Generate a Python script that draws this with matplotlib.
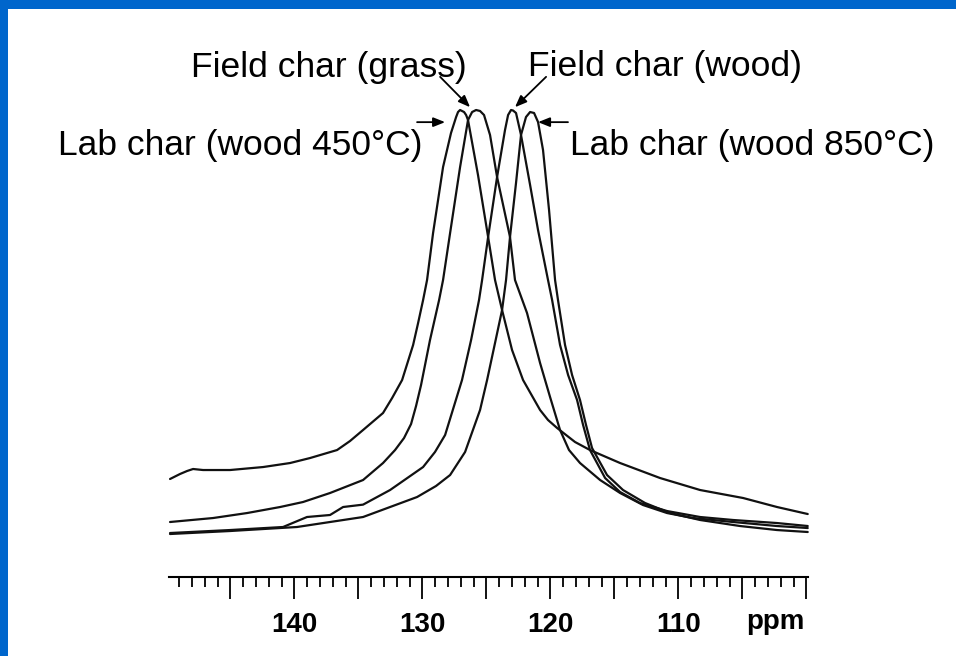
import matplotlib
matplotlib.use('Agg')
import matplotlib.pyplot as plt
from matplotlib.patches import Rectangle
from matplotlib.ticker import MultipleLocator, FuncFormatter

# ---- data ----
lab450_ppm = [149.72, 148.94, 148.39, 147.92, 147.14, 145.03, 142.45, 140.34, 138.78, 136.67,
              135.66, 134.64, 133.08, 132.37, 131.59, 130.73, 130.34, 129.95, 129.64, 129.17,
              128.39, 127.77, 127.37, 127.22, 127.06, 126.75, 126.59, 126.44, 125.66, 124.87,
              124.33, 123.78, 123.00, 122.14, 120.81, 120.19, 119.48, 118.08, 116.91, 114.56,
              111.44, 108.31, 104.95, 102.30, 99.90]
lab450_int = [20.99, 22.06, 22.70, 23.13, 22.91, 22.91, 23.55, 24.41, 25.48, 27.19,
              29.12, 31.48, 35.12, 38.33, 42.18, 49.68, 54.39, 59.31, 63.60, 73.66,
              87.79, 95.07, 98.50, 99.57, 100.0, 99.57, 98.93, 97.86, 86.08, 72.81,
              63.60, 57.17, 48.61, 42.18, 35.76, 33.62, 31.91, 28.91, 27.19, 24.41,
              21.20, 18.63, 16.92, 14.99, 13.49]

grass_ppm = [149.72, 146.36, 143.70, 141.12, 139.33, 137.22, 134.64, 133.08, 132.14, 131.44,
             130.89, 130.50, 130.11, 129.41, 128.70, 128.39, 127.84, 127.06, 126.44, 126.12,
             125.81, 125.50, 125.19, 124.72, 124.17, 123.16, 122.77, 121.83, 120.81, 120.03,
             119.25, 118.55, 117.69, 116.12, 114.56, 112.77, 110.89, 108.86, 105.73, 102.30,
             99.90]
grass_int = [11.78, 12.63, 13.70, 14.99, 16.06, 17.99, 20.77, 24.41, 27.19, 29.76,
             32.76, 36.62, 41.11, 50.75, 59.31, 63.60, 73.66, 87.79, 97.86, 99.57,
             100.0, 99.79, 98.93, 94.65, 85.65, 72.81, 63.60, 56.53, 45.82, 38.54,
             31.48, 27.19, 24.41, 20.77, 17.99, 15.42, 13.70, 12.63, 11.78, 10.92,
             10.49]

fwood_ppm = [149.72, 145.03, 140.89, 139.02, 137.22, 136.20, 134.64, 132.53, 129.95, 129.02,
             128.23, 126.91, 126.20, 125.58, 125.34, 124.87, 124.17, 123.55, 123.31, 123.08,
             122.92, 122.69, 122.30, 121.59, 120.97, 120.19, 119.87, 119.25, 118.62, 117.92,
             117.45, 116.91, 115.73, 114.56, 113.00, 110.89, 108.31, 105.73, 102.30, 99.90]
fwood_int = [9.42, 10.06, 10.71, 12.85, 13.28, 14.99, 15.50, 18.63, 23.55, 26.77,
             30.41, 42.18, 50.75, 59.31, 63.60, 72.81, 85.65, 95.72, 98.93, 100.0,
             99.89, 99.36, 94.65, 83.94, 74.30, 63.60, 59.31, 49.68, 43.25, 37.90,
             32.55, 27.19, 21.20, 18.20, 15.85, 14.13, 12.85, 12.21, 11.56, 10.92]

lab850_ppm = [149.72, 145.03, 139.80, 134.64, 130.42, 128.94, 127.84, 126.67, 125.50, 124.95,
              124.33, 123.78, 123.47, 123.16, 122.69, 122.30, 121.91, 121.59, 121.28, 120.97,
              120.58, 120.11, 119.64, 119.41, 118.86, 118.31, 117.69, 117.22, 116.75, 115.58,
              114.33, 112.61, 110.66, 108.31, 105.19, 102.30, 99.90]
lab850_int = [9.21, 9.85, 10.71, 12.85, 17.13, 19.49, 21.84, 26.77, 35.76, 42.18,
              50.11, 57.17, 63.60, 72.81, 84.37, 94.65, 98.50, 99.57, 99.36, 97.43,
              91.43, 78.59, 63.60, 59.31, 49.68, 43.25, 37.90, 32.55, 27.62, 21.84,
              18.63, 15.85, 13.70, 12.21, 10.92, 10.06, 9.64]

tick_labels = {140: '140', 130: '130', 120: '120', 110: '110'}

labels = ['Lab char (wood 450°C)', 'Field char (grass)', 'Field char (wood)', 'Lab char (wood 850°C)']
label_pos = [(144.25, 92.5), (137.34, 109.0), (111.05, 109.3), (104.21, 92.5)]
arrow_from = [(130.42, 97.4), (128.62, 107.1), (120.34, 107.1), (118.63, 97.4)]
arrow_to = [(128.23, 97.4), (126.28, 100.6), (122.77, 100.6), (120.97, 97.4)]

# ---- figure ----
plt.rcParams['font.family'] = ['Liberation Sans', 'DejaVu Sans']
fig = plt.figure(figsize=(9.56, 6.56), dpi=100)
fig.patch.set_facecolor('white')
fig.add_artist(Rectangle((0, 1 - 9 / 656), 1, 9 / 656, transform=fig.transFigure,
                         facecolor='#0066CC', edgecolor='none'))
fig.add_artist(Rectangle((0, 0), 8 / 956, 1, transform=fig.transFigure,
                         facecolor='#0066CC', edgecolor='none'))

ax = fig.add_axes([0.1768, 0.1204, 0.6681, 0.7475])
for xs, ys in [(lab450_ppm, lab450_int), (grass_ppm, grass_int),
               (fwood_ppm, fwood_int), (lab850_ppm, lab850_int)]:
    ax.plot(xs, ys, color='#111111', lw=1.6, solid_joinstyle='round', solid_capstyle='round',
            clip_on=False)

ax.set_xlim(149.8, 99.9)
ax.set_ylim(0, 105)
for s in ['left', 'right', 'top']:
    ax.spines[s].set_visible(False)
ax.spines['bottom'].set_linewidth(1.5)
ax.set_yticks([])
ax.xaxis.set_major_locator(MultipleLocator(5))
ax.xaxis.set_minor_locator(MultipleLocator(1))
ax.xaxis.set_major_formatter(FuncFormatter(lambda v, p: tick_labels.get(int(round(v)), '')))
ax.tick_params(axis='x', which='major', length=16, width=1.3, direction='out', pad=9,
               labelsize=20)
ax.tick_params(axis='x', which='minor', length=7, width=1.3, direction='out')
for t in ax.get_xticklabels():
    t.set_fontweight('bold')
    t.set_family(['Liberation Sans Narrow', 'Liberation Sans'])

ax.text(102.4, -0.0918, 'ppm', transform=ax.get_xaxis_transform(), ha='center', va='center',
        fontsize=20, fontweight='bold', family=['Liberation Sans Narrow', 'Liberation Sans'])

for txt, (px, py) in zip(labels, label_pos):
    ax.text(px, py, txt, ha='center', va='center', fontsize=25.5, color='black')
for (x0, y0), (x1, y1) in zip(arrow_from, arrow_to):
    ax.annotate('', xy=(x1, y1), xytext=(x0, y0), annotation_clip=False,
                arrowprops=dict(arrowstyle='-|>,head_length=0.7,head_width=0.28',
                                color='black', lw=1.3, shrinkA=0, shrinkB=0))

fig.savefig('out.png', dpi=100, facecolor='white')
